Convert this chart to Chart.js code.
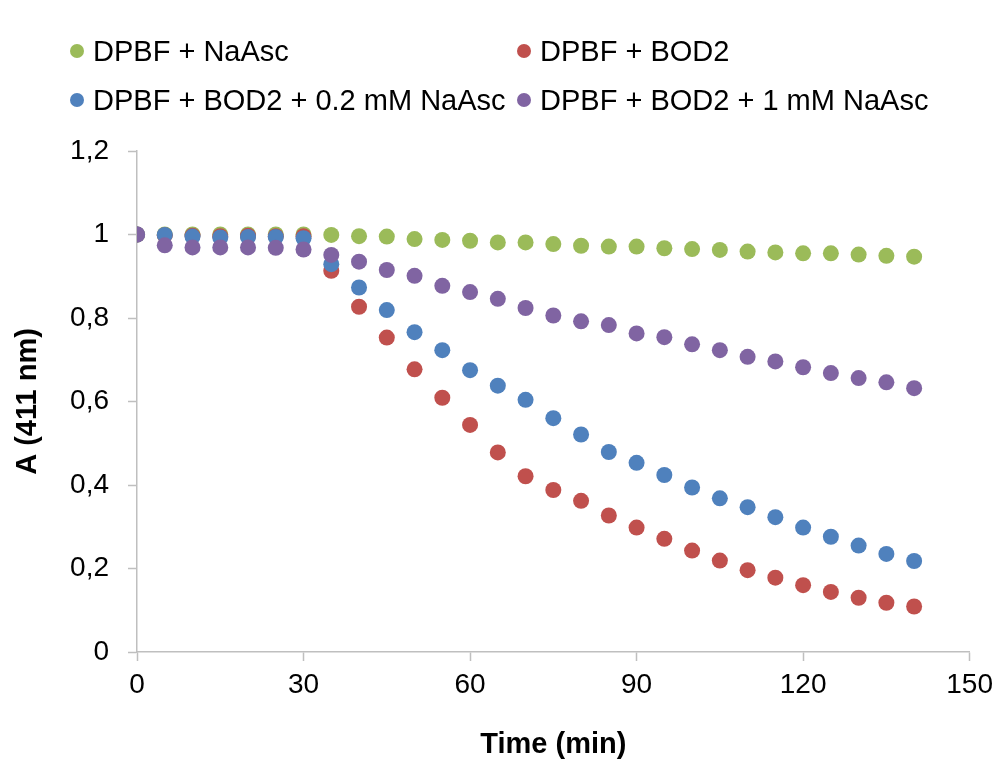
<!DOCTYPE html>
<html>
<head>
<meta charset="utf-8">
<script src="https://cdn.jsdelivr.net/npm/chart.js@4/dist/chart.umd.min.js"></script>
<style>
  html, body { margin: 0; padding: 0; background: #fff; }
  #wrap { position: relative; width: 1000px; height: 762px; }
  canvas { position: absolute; left: 0; top: 0; }
  .lg { position: absolute; height: 40px; display: flex; align-items: center;
        font-family: 'Liberation Sans', Arial, sans-serif; font-size: 29px; color: #000; white-space: nowrap; }
  .dot { width: 14px; height: 14px; border-radius: 50%; margin-right: 9px; flex: none; }
</style>
</head>
<body>
<div id="wrap">
  <canvas id="c" width="1000" height="762"></canvas>
  <div id="legend"></div>
</div>
<script>
// ---- data ----
const times = [0,5,10,15,20,25,30,35,40,45,50,55,60,65,70,75,80,85,90,95,100,105,110,115,120,125,130,135,140];
const seriesNames = ['DPBF + NaAsc', 'DPBF + BOD2', 'DPBF + BOD2 + 0.2 mM NaAsc', 'DPBF + BOD2 + 1 mM NaAsc'];
const seriesColors = ['#9BBB59', '#C0504D', '#4F81BD', '#8064A2'];
const naAsc = [1.000,1.000,1.000,1.000,1.000,1.000,1.000,0.999,0.996,0.995,0.989,0.987,0.985,0.981,0.981,0.977,0.973,0.971,0.971,0.967,0.965,0.963,0.959,0.957,0.955,0.955,0.952,0.949,0.947];
const bod2 = [1.000,0.998,0.997,0.996,0.997,0.996,0.996,0.913,0.827,0.753,0.677,0.609,0.544,0.478,0.421,0.388,0.362,0.327,0.298,0.271,0.243,0.219,0.196,0.178,0.160,0.144,0.130,0.118,0.109];
const bod2Asc02 = [1.000,0.999,0.995,0.993,0.994,0.994,0.991,0.929,0.873,0.819,0.766,0.723,0.675,0.638,0.604,0.560,0.521,0.479,0.453,0.424,0.394,0.368,0.347,0.323,0.298,0.276,0.255,0.235,0.218];
const bod2Asc1 = [1.000,0.974,0.969,0.969,0.969,0.968,0.964,0.951,0.935,0.915,0.901,0.877,0.862,0.846,0.824,0.806,0.792,0.783,0.763,0.754,0.737,0.723,0.707,0.696,0.682,0.668,0.656,0.646,0.632];
const xTickLabels = ['0','30','60','90','120','150'];
const yTickLabels = ['0','0,2','0,4','0,6','0,8','1','1,2'];
const xTitle = 'Time (min)';
const yTitle = 'A (411 nm)';

// ---- legend (HTML) ----
const legendSlots = [[70, 31], [517, 31], [70, 80], [517, 80]];
const legendEl = document.getElementById('legend');
seriesNames.forEach((name, i) => {
  const d = document.createElement('div');
  d.className = 'lg';
  d.style.left = legendSlots[i][0] + 'px';
  d.style.top = legendSlots[i][1] + 'px';
  const dot = document.createElement('span');
  dot.className = 'dot';
  dot.style.background = seriesColors[i];
  const t = document.createElement('span');
  t.textContent = name;
  d.appendChild(dot); d.appendChild(t);
  legendEl.appendChild(d);
});

// ---- chart ----
const allSeries = [naAsc, bod2, bod2Asc02, bod2Asc1];
const datasets = allSeries.map((vals, i) => ({
  label: seriesNames[i],
  data: times.map((t, j) => ({ x: t, y: vals[j] })),
  backgroundColor: seriesColors[i],
  borderColor: seriesColors[i],
  borderWidth: 0,
  pointRadius: 8,
  pointHoverRadius: 8,
  order: allSeries.length - i
}));

const axisGrey = '#BFBFBF';
const tickFont = { family: "'Liberation Sans', Arial, sans-serif", size: 28 };
const titleFont = { family: "'Liberation Sans', Arial, sans-serif", size: 29, weight: 'bold' };

new Chart(document.getElementById('c'), {
  type: 'scatter',
  data: { datasets },
  options: {
    responsive: false,
    devicePixelRatio: 1,
    animation: false,
    layout: { padding: { top: 151, right: 30, left: 0, bottom: 0 } },
    plugins: { legend: { display: false }, tooltip: { enabled: false } },
    scales: {
      x: {
        type: 'linear', min: 0, max: 150,
        afterFit: s => { s.height = 110; },
        afterBuildTicks: s => { s.ticks = xTickLabels.map(v => ({ value: Number(v) })); },
        ticks: { color: '#000', font: tickFont, padding: 7, maxRotation: 0,
                 callback: (v, i) => xTickLabels[i] },
        grid: { drawOnChartArea: false, drawTicks: true, tickLength: 9, tickColor: axisGrey, tickWidth: 1.5 },
        border: { display: true, color: axisGrey, width: 1.5 },
        title: { display: true, text: xTitle, color: '#000', font: titleFont, padding: { top: 0, bottom: 0 } }
      },
      y: {
        type: 'linear', min: 0, max: 1.2,
        afterFit: s => { s.width = 137; },
        afterBuildTicks: s => { s.ticks = yTickLabels.map((v, i) => ({ value: Math.round(i * 2) / 10 })); },
        ticks: { color: '#000', font: tickFont, padding: 19,
                 callback: (v, i) => yTickLabels[i] },
        grid: { drawOnChartArea: false, drawTicks: true, tickLength: 9, tickColor: axisGrey, tickWidth: 1.5 },
        border: { display: true, color: axisGrey, width: 1.5 },
        title: { display: true, text: yTitle, color: '#000', font: titleFont, padding: { top: 11, bottom: 0 } }
      }
    }
  }
});
</script>
</body>
</html>
